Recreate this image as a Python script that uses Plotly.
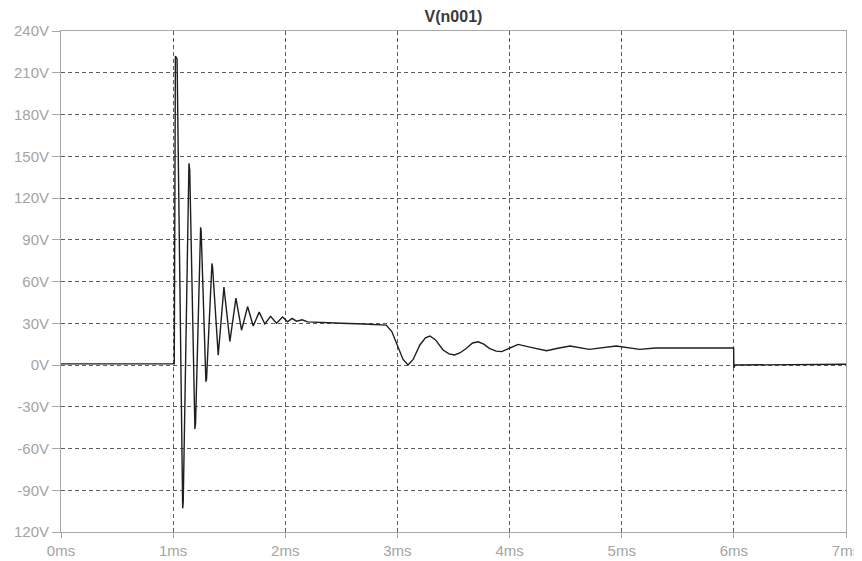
import plotly.graph_objects as go

# Time (ms) and voltage (V)
time_ms = [0.0, 1.01, 1.02, 1.035, 1.085, 1.09, 1.141, 1.148, 1.194, 1.2,
           1.245, 1.25, 1.292, 1.298, 1.346, 1.352, 1.402, 1.453, 1.506, 1.56,
           1.61, 1.664, 1.714, 1.767, 1.818, 1.869, 1.922, 1.976, 2.02, 2.06,
           2.1, 2.15, 2.2, 2.3, 2.5, 2.7, 2.9, 2.95, 3.006, 3.05, 3.095, 3.14,
           3.2, 3.25, 3.29, 3.34, 3.407, 3.46, 3.51, 3.56, 3.616, 3.67, 3.72,
           3.77, 3.82, 3.88, 3.93, 4.0, 4.076, 4.2, 4.33, 4.43, 4.54, 4.71,
           4.95, 5.16, 5.3, 5.998, 6.0, 6.01, 6.8, 6.95, 7.0]
volts = [0.8, 0.8, 222, 220, -103, -98, 145, 140, -46, -42,
         99, 96, -12, -10, 73, 70, 7, 56, 17, 48,
         25, 42, 28, 38, 29.5, 35, 30, 34.5, 31, 33.5,
         31.5, 32.5, 31, 30.5, 30, 29.5, 28.7, 24, 13, 4, 0, 4,
         14.4, 19.5, 20.8, 18, 10.8, 8, 7.2, 8.8, 12, 15.8, 16.7,
         15, 12, 10, 9.6, 12, 14.8, 12.5, 10.3, 12, 13.6, 11.2,
         13.6, 11.2, 12.2, 12.2, -2, 0, 0, 0.5, 0.5]

x_ticks = [0, 1, 2, 3, 4, 5, 6, 7]
x_labels = ["0ms", "1ms", "2ms", "3ms", "4ms", "5ms", "6ms", "7ms"]
y_ticks = [-120, -90, -60, -30, 0, 30, 60, 90, 120, 150, 180, 210, 240]
y_labels = ["120V", "-90V", "-60V", "-30V", "0V", "30V", "60V", "90V",
            "120V", "150V", "180V", "210V", "240V"]

fig = go.Figure()
fig.add_trace(go.Scatter(x=time_ms, y=volts, mode="lines",
                         line=dict(color="#1e1e1e", width=1.4),
                         showlegend=False, hoverinfo="skip"))

axis_common = dict(
    showline=True, linecolor="#a8a8a8", linewidth=1, mirror=True,
    showgrid=True, gridcolor="#5e5e5e", gridwidth=1, griddash="4px,3px",
    zeroline=False, ticks="outside", tickcolor="#a8a8a8",
    automargin=False,
    tickfont=dict(family="Arial, Liberation Sans, sans-serif", size=15, color="#a4a4a4"),
)

fig.update_xaxes(range=[0, 7], tickvals=x_ticks, ticktext=x_labels, ticklen=5, **axis_common)
fig.update_yaxes(range=[-120, 240], tickvals=y_ticks, ticktext=y_labels, ticklen=8, **axis_common)

fig.update_layout(
    width=854, height=553,
    margin=dict(l=53, r=16, t=23, b=29, pad=0),
    paper_bgcolor="white", plot_bgcolor="white",
    title=dict(text="<b>V(n001)</b>", xref="paper", x=0.5, xanchor="center",
               y=0.984, yanchor="middle", automargin=False,
               font=dict(family="Arial, Liberation Sans, sans-serif", size=16, color="#3a3a3a")),
)

fig.write_html("out.html")
